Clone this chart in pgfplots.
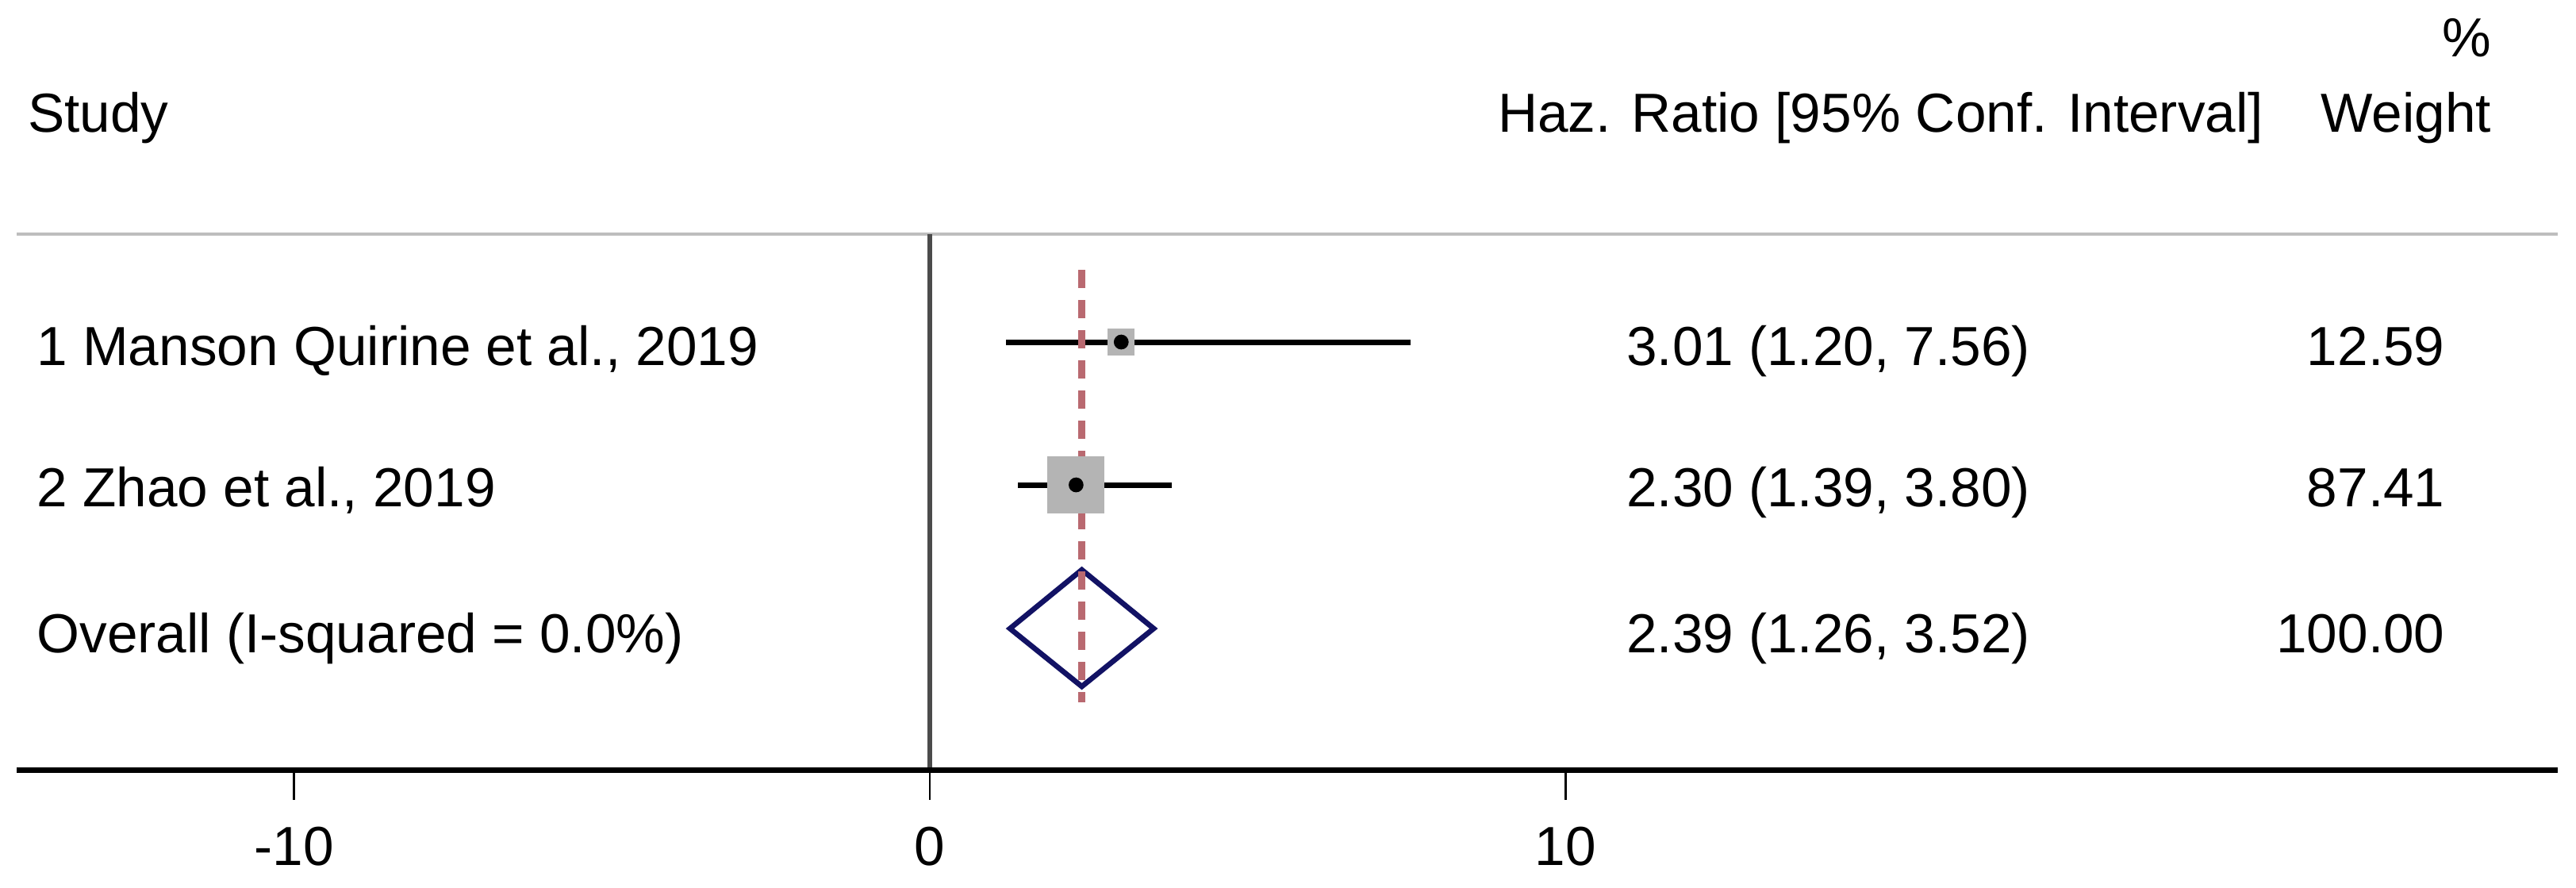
\documentclass[border=0pt]{standalone}
\usepackage{fontspec}
\setmainfont{Liberation Sans}
\usepackage{pgfplots}
\pgfplotsset{compat=1.18}
\definecolor{sqgray}{RGB}{180,180,180}
\definecolor{refred}{RGB}{185,105,112}
\definecolor{navyd}{RGB}{18,18,100}
\definecolor{vline}{RGB}{75,75,75}
\definecolor{topgray}{RGB}{190,190,190}
\newcommand{\tf}{\fontsize{10.4}{12}\selectfont}

\begin{document}
\begin{tikzpicture}
\begin{axis}[
  scale only axis,
  width=480.4pt, height=101.55pt,
  xmin=-14.36, xmax=25.60, ymin=146, ymax=823,
  axis x line*=bottom, axis y line=none,
  x axis line style={draw=none},
  xtick={-10,0,10}, xticklabels={-10,0,10},
  tick align=outside, major tick length=5.4pt,
  xtick style={black, line width=0.35pt},
  xticklabel style={font=\tf, yshift=-1.6pt},
  clip=false,
]
% frame lines
\draw[topgray, line width=0.7pt] (axis cs:-14.36,823) -- (axis cs:25.60,823);
\draw[vline, line width=0.8pt] (axis cs:0,823) -- (axis cs:0,146);
\draw[black, line width=0.95pt] (axis cs:-14.36,147.5) -- (axis cs:25.60,147.5);

% weight squares
\addplot[only marks, mark=square*, mark size=2.48pt, mark options={fill=sqgray, draw=sqgray, line width=0pt}] coordinates {(3.01,687)};
\addplot[only marks, mark=square*, mark size=5.33pt, mark options={fill=sqgray, draw=sqgray, line width=0pt}] coordinates {(2.30,507)};
% confidence intervals
\addplot[black, line width=1.05pt, mark=none] coordinates {(1.20,687) (7.56,687)};
\addplot[black, line width=1.05pt, mark=none] coordinates {(1.39,507) (3.80,507)};
% overall diamond
\addplot[navyd, line width=1pt, mark=none] coordinates {(1.26,326) (2.39,400) (3.52,326) (2.39,253)} -- cycle;
% overall effect line
\addplot[refred, line width=1.3pt, dash pattern=on 3.45pt off 2.25pt, mark=none] coordinates {(2.39,778) (2.39,233)};
% point estimates
\addplot[only marks, mark=*, mark size=1.2pt, black] coordinates {(3.01,687) (2.30,507)};

% header
\node[anchor=base west, font=\tf, inner sep=0pt] at (axis cs:-14.2,951) {Study};
\node[anchor=base east, font=\tf, inner sep=0pt] at (axis cs:20.99,951) {Haz. Ratio [95\% Conf. Interval]};
\node[anchor=base east, font=\tf, inner sep=0pt] at (axis cs:24.57,951) {Weight};
\node[anchor=base east, font=\tf, inner sep=0pt] at (axis cs:24.57,1046) {\%};
% rows
\node[anchor=base west, font=\tf, inner sep=0pt] at (axis cs:-14.06,658) {1 Manson Quirine et al., 2019};
\node[anchor=base west, font=\tf, inner sep=0pt] at (axis cs:-14.06,480) {2 Zhao et al., 2019};
\node[anchor=base west, font=\tf, inner sep=0pt] at (axis cs:-14.06,296) {Overall (I-squared = 0.0\%)};
\node[anchor=base west, font=\tf, inner sep=0pt] at (axis cs:10.94,658) {3.01 (1.20, 7.56)};
\node[anchor=base west, font=\tf, inner sep=0pt] at (axis cs:10.94,480) {2.30 (1.39, 3.80)};
\node[anchor=base west, font=\tf, inner sep=0pt] at (axis cs:10.94,296) {2.39 (1.26, 3.52)};
\node[anchor=base east, font=\tf, inner sep=0pt] at (axis cs:23.84,658) {12.59};
\node[anchor=base east, font=\tf, inner sep=0pt] at (axis cs:23.84,480) {87.41};
\node[anchor=base east, font=\tf, inner sep=0pt] at (axis cs:23.84,296) {100.00};

% page extent
\path (axis cs:-14.623,0) rectangle (axis cs:25.889,1118);
\end{axis}
\end{tikzpicture}
\end{document}
